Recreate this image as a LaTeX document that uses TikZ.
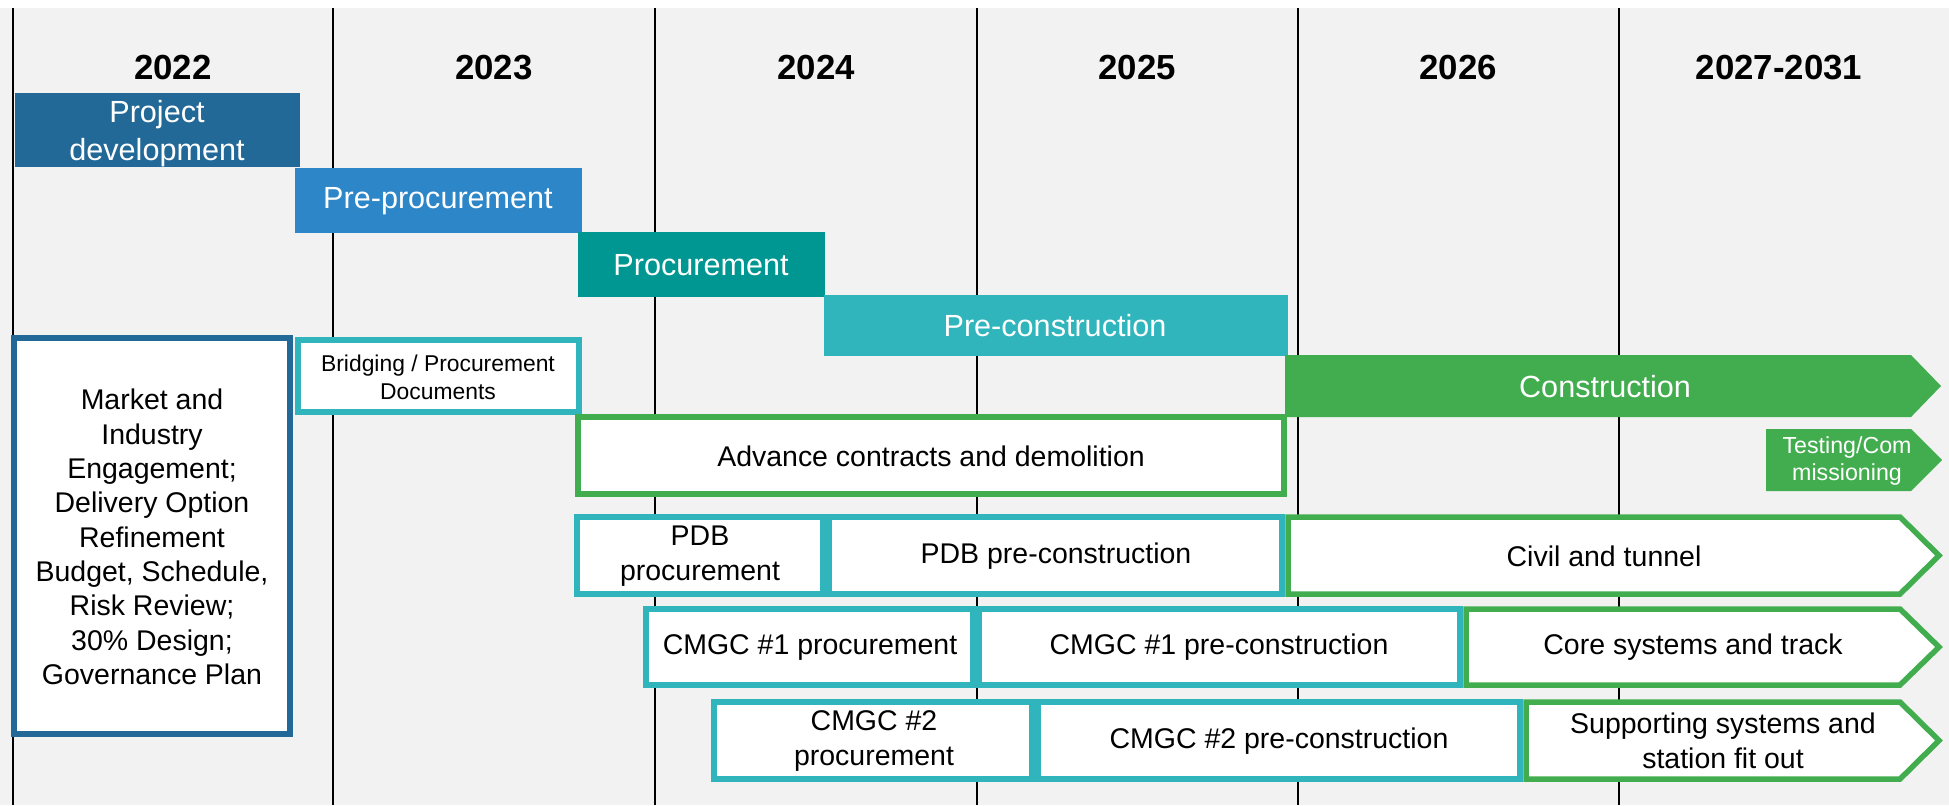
\documentclass[tikz,border=0pt]{standalone}
\usepackage{fontspec}
\setmainfont{Liberation Sans}
\definecolor{bggray}{RGB}{242,242,242}
\definecolor{devblue}{RGB}{35,105,152}
\definecolor{preblue}{RGB}{45,134,199}
\definecolor{procteal}{RGB}{0,150,145}
\definecolor{conteal}{RGB}{48,181,188}
\definecolor{buildgreen}{RGB}{66,173,78}
\tikzstyle{yearlabel}=[font=\fontsize{9.9}{12}\selectfont\bfseries]
\tikzstyle{phase}=[text=white,align=center,font=\fontsize{8.7}{10.5}\selectfont]
\tikzstyle{task}=[align=center,font=\fontsize{8.1}{9.9}\selectfont]
\tikzstyle{tealbox}=[draw=conteal,line width=1.56pt,fill=white]
\tikzstyle{greenbox}=[draw=buildgreen,line width=1.56pt,fill=white]

\begin{document}
\begin{tikzpicture}[x=0.01cm,y=-0.01cm]
    \useasboundingbox (0,0) rectangle (1949,805);
    \fill[bggray] (0,8) rectangle (1949,805);
    \foreach \x in {13,333,655,977,1298,1619}{
      \draw[line width=0.5pt] (\x,8) -- (\x,805);
    }
    \foreach \x/\yr [count=\i] in {173/2022,494/2023,816/2024,1137/2025,1458/2026,1779/2027-2031}{
      \node[yearlabel] (year\i) at (\x,68) {\yr};
    }

    % phases
    \fill[devblue] (15,93) rectangle (300,167);
    \node[phase,font=\fontsize{8.7}{10.8}\selectfont] (dev) at (157,134) {Project\\development};
    \fill[preblue] (295,168) rectangle (582,233);
    \node[phase] (preproc) at (438,201) {Pre-procurement};
    \fill[procteal] (578,232) rectangle (825,297);
    \node[phase] (proc) at (701,265) {Procurement};
    \fill[conteal] (824,295) rectangle (1288,356);
    \node[phase] (precon) at (1055,326) {Pre-construction};
    \fill[buildgreen] (1285,355) -- (1911,355) -- (1941,386) -- (1911,417) -- (1285,417) -- cycle;
    \node[phase] (constr) at (1605,387) {Construction};
    \fill[buildgreen] (1766,429) -- (1911,429) -- (1942,460) -- (1911,491) -- (1766,491) -- cycle;
    \node[phase,font=\fontsize{6.6}{7.6}\selectfont] (testing) at (1847,461) {Testing/Com\\missioning};

    % contracts
    \draw[draw=devblue,line width=1.56pt,fill=white] (14,338) rectangle (290,734);
    \node[task,font=\fontsize{8.1}{9.76}\selectfont] (market) at (152,537) {Market and\\Industry\\Engagement;\\Delivery Option\\Refinement\\Budget, Schedule,\\Risk Review;\\30\% Design;\\Governance Plan};
    \draw[tealbox] (298,340) rectangle (579,412);
    \node[task,font=\fontsize{6.5}{8}\selectfont] (bridging) at (438,377) {Bridging / Procurement\\Documents};
    \draw[greenbox] (578,417) rectangle (1284,494);
    \node[task] (advance) at (931,456) {Advance contracts and demolition};

    \draw[tealbox] (577,517) rectangle (823,594);
    \node[task] (pdbproc) at (700,556) {PDB\\procurement};
    \draw[tealbox] (829,517) rectangle (1282,594);
    \node[task] (pdbprecon) at (1056,556) {PDB pre-construction};
    \draw[greenbox] (1288,517) -- (1900,517) -- (1939,555.5) -- (1900,594) -- (1288,594) -- cycle;
    \node[task] (civil) at (1604,556) {Civil and tunnel};

    \draw[tealbox] (646,609) rectangle (973,685);
    \node[task] (cmgcaproc) at (810,647) {CMGC \#1 procurement};
    \draw[tealbox] (979,609) rectangle (1460,685);
    \node[task] (cmgcaprecon) at (1219,647) {CMGC \#1 pre-construction};
    \draw[greenbox] (1466,609) -- (1900,609) -- (1939,647) -- (1900,685) -- (1466,685) -- cycle;
    \node[task] (core) at (1693,647) {Core systems and track};

    \draw[tealbox] (714,702) rectangle (1032,779);
    \node[task] (cmgcbproc) at (874,741) {CMGC \#2\\procurement};
    \draw[tealbox] (1038,702) rectangle (1520,779);
    \node[task] (cmgcbprecon) at (1279,741) {CMGC \#2 pre-construction};
    \draw[greenbox] (1526,702) -- (1900,702) -- (1939,740.5) -- (1900,779) -- (1526,779) -- cycle;
    \node[task] (supporting) at (1723,741) {Supporting systems and\\station fit out};
  \end{tikzpicture}
\end{document}
